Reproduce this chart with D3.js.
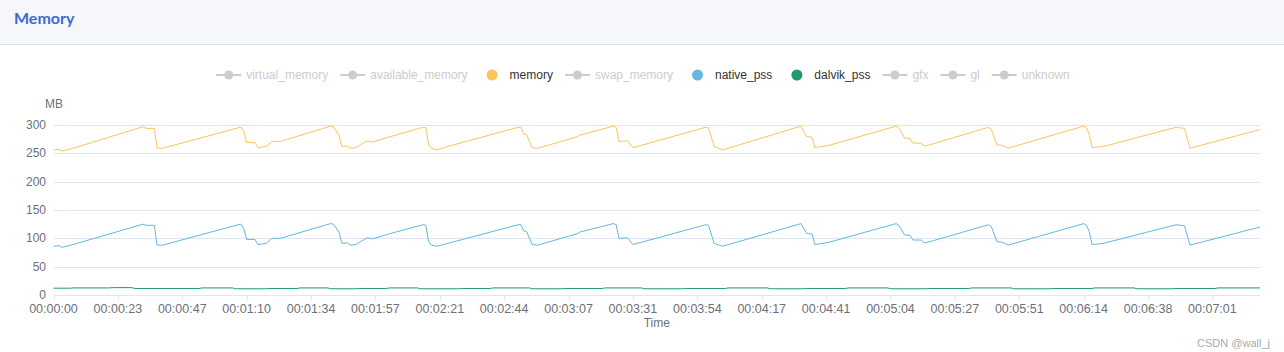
<!DOCTYPE html>
<html>
<head>
<meta charset="utf-8">
<script src="https://cdn.jsdelivr.net/npm/d3@7/dist/d3.min.js"></script>
<style>
body { margin: 0; background: #fff; }
svg { display: block; font-family: "Liberation Sans", Arial, sans-serif; }
</style>
</head>
<body>
<svg id="chart" width="1284" height="352"></svg>
<script>
// x axis: one category per sample, a label every 23 samples
var sampleCount = 432;
var labelStep = 23;
var timeLabels = ["00:00:00", "00:00:23", "00:00:47", "00:01:10", "00:01:34", "00:01:57", "00:02:21",
    "00:02:44", "00:03:07", "00:03:31", "00:03:54", "00:04:17", "00:04:41", "00:05:04", "00:05:27",
    "00:05:51", "00:06:14", "00:06:38", "00:07:01"];

var yTicks = [0, 50, 100, 150, 200, 250, 300];

var legendNames = ["virtual_memory", "available_memory", "memory", "swap_memory", "native_pss",
    "dalvik_pss", "gfx", "gl", "unknown"];
var legendOn = [false, false, true, false, true, true, false, false, false];

// sample index of each vertex for memory / native_pss
var memIdx = [0, 2, 3, 7, 32, 33, 36, 37, 39, 66, 67, 68, 69, 72, 73, 76, 78, 81,
    99, 100, 102, 103, 105, 106, 108, 112, 114, 120, 132, 133, 134, 135, 137, 140,
    166, 167, 168, 169, 171, 173, 187, 188, 200, 201, 202, 205, 207, 233, 234, 236, 239,
    267, 269, 271, 272, 277, 301, 302, 304, 306, 307, 310, 311, 313, 334, 335, 337, 339, 341,
    368, 369, 370, 371, 375, 401, 404, 406, 431];
var memory = [256, 257, 254, 259, 297, 294, 294, 259, 259, 295, 296, 288, 269, 269, 260, 262, 271, 271,
    298, 297, 282, 262, 263, 259, 260, 272, 270, 279, 296, 295, 265, 259, 256, 261,
    296, 296, 284, 283, 260, 259, 279, 282, 298, 296, 271, 272, 260, 296, 295, 262, 256,
    298, 280, 278, 260, 264, 298, 295, 277, 276, 268, 268, 263, 265, 296, 292, 265, 264, 259,
    298, 295, 283, 260, 262, 296, 294, 259, 292];
var nativePss = [86, 87, 84, 89, 125, 123, 123, 88, 88, 124, 125, 117, 98, 98, 89, 91, 100, 100,
    126, 125, 111, 91, 92, 88, 89, 101, 99, 108, 124, 123, 94, 88, 86, 90,
    124, 124, 113, 112, 89, 88, 108, 111, 126, 124, 100, 101, 89, 124, 123, 91, 86,
    126, 109, 107, 89, 93, 126, 123, 106, 105, 97, 97, 92, 94, 124, 121, 94, 93, 88,
    126, 123, 112, 89, 91, 124, 122, 88, 120];

var dalvikIdx = [0, 6, 7, 20, 21, 28, 29, 52, 53, 64, 65, 76, 77, 87, 88, 98, 99, 108, 109, 119,
    120, 130, 131, 145, 146, 156, 157, 170, 171, 182, 183, 196, 197, 210, 211, 225, 226, 240,
    241, 255, 256, 268, 269, 283, 284, 298, 299, 312, 313, 327, 328, 342, 343, 356, 357, 371,
    372, 386, 387, 400, 401, 415, 416, 431];
var dalvikPss = [12, 12, 12.5, 12.5, 13, 13, 11.5, 11.5, 12.5, 12.5, 11, 11, 11.5, 11.5, 12.5, 12.5,
    11, 11, 11.5, 11.5, 12.5, 12.5, 11, 11, 11.5, 11.5, 12.5, 12.5, 11, 11, 11.5, 11.5,
    12.5, 12.5, 11, 11, 11.5, 11.5, 12.5, 12.5, 11, 11, 11.5, 11.5, 12.5, 12.5, 11, 11,
    11.5, 11.5, 12.5, 12.5, 11, 11, 11.5, 11.5, 12.5, 12.5, 11, 11, 11.5, 11.5, 12.5, 12.5];

var colors = {memory: "#fbc55a", native_pss: "#62b9dc", dalvik_pss: "#1f9a6a"};

var svg = d3.select("#chart");

// header band
svg.append("rect")
    .attr("x", 0).attr("y", 0)
    .attr("width", 1284).attr("height", 44)
    .attr("fill", "#f5f7fb");
svg.append("line")
    .attr("x1", 0).attr("x2", 1284)
    .attr("y1", 44.5).attr("y2", 44.5)
    .attr("stroke", "#dde3ee");
svg.append("text")
    .attr("x", 14).attr("y", 24)
    .attr("font-size", 16)
    .attr("font-weight", "bold")
    .attr("font-family", "Lato, 'Open Sans', sans-serif")
    .attr("fill", "#3b6ad6")
    .text("Memory");

var xScale = d3.scaleLinear()
    .domain([0, sampleCount - 1])
    .range([53.5, 1260]);

var yScale = d3.scaleLinear()
    .domain([0, 300])
    .range([295, 125]);

// grid lines
svg.append("g")
    .selectAll("line")
    .data(yTicks)
    .join("line")
    .attr("x1", xScale(0)).attr("x2", xScale(sampleCount - 1))
    .attr("y1", function(d) { return Math.round(yScale(d)) + 0.5; })
    .attr("y2", function(d) { return Math.round(yScale(d)) + 0.5; })
    .attr("stroke", "#e0e6f1");

// y axis labels
svg.append("g")
    .selectAll("text")
    .data(yTicks)
    .join("text")
    .attr("x", 46)
    .attr("y", function(d) { return yScale(d) + 4; })
    .attr("text-anchor", "end")
    .attr("font-size", 12)
    .attr("fill", "#6e7079")
    .text(function(d) { return d; });

svg.append("text")
    .attr("x", 54).attr("y", 108)
    .attr("text-anchor", "middle")
    .attr("font-size", 12)
    .attr("fill", "#6e7079")
    .text("MB");

// x axis ticks and labels
var xTicks = timeLabels.map(function(t, i) { return {i: i * labelStep, t: t}; });
var xAxis = svg.append("g");
xAxis.selectAll("line")
    .data(xTicks)
    .join("line")
    .attr("x1", function(d) { return Math.round(xScale(d.i)) + 0.5; })
    .attr("x2", function(d) { return Math.round(xScale(d.i)) + 0.5; })
    .attr("y1", 295).attr("y2", 300)
    .attr("stroke", "#e0e6f1");
xAxis.selectAll("text")
    .data(xTicks)
    .join("text")
    .attr("x", function(d) { return xScale(d.i); })
    .attr("y", 313)
    .attr("text-anchor", "middle")
    .attr("font-size", 12.5)
    .attr("fill", "#6e7079")
    .text(function(d) { return d.t; });

svg.append("text")
    .attr("x", (xScale(0) + xScale(sampleCount - 1)) / 2)
    .attr("y", 327)
    .attr("text-anchor", "middle")
    .attr("font-size", 12)
    .attr("fill", "#6e7079")
    .text("Time");

// series lines
var line = d3.line()
    .x(function(d) { return xScale(d[0]); })
    .y(function(d) { return yScale(d[1]); });

svg.append("path")
    .datum(d3.zip(dalvikIdx, dalvikPss))
    .attr("fill", "none")
    .attr("stroke", colors.dalvik_pss)
    .attr("stroke-width", 1)
    .attr("d", line);

svg.append("path")
    .datum(d3.zip(memIdx, nativePss))
    .attr("fill", "none")
    .attr("stroke", colors.native_pss)
    .attr("stroke-width", 1)
    .attr("d", line);

svg.append("path")
    .datum(d3.zip(memIdx, memory))
    .attr("fill", "none")
    .attr("stroke", colors.memory)
    .attr("stroke-width", 1)
    .attr("d", line);

// legend
var legend = svg.append("g");
var items = legend.selectAll("g")
    .data(legendNames)
    .join("g");
items.append("text")
    .attr("x", 30)
    .attr("y", 4)
    .attr("font-size", 12)
    .attr("fill", function(d, i) { return legendOn[i] ? "#333" : "#ccc"; })
    .text(function(d) { return d; });
items.each(function(d, i) {
    var g = d3.select(this);
    if (legendOn[i]) {
        g.append("circle").attr("cx", 12.5).attr("cy", 0).attr("r", 5.5).attr("fill", colors[d]);
    } else {
        g.append("line").attr("x1", 0).attr("x2", 25).attr("y1", 0).attr("y2", 0)
            .attr("stroke", "#ccc").attr("stroke-width", 2);
        g.append("circle").attr("cx", 12.5).attr("cy", 0).attr("r", 4.5).attr("fill", "#ccc");
    }
});
var pos = 0;
var offsets = [];
items.each(function() {
    var w = 30 + d3.select(this).select("text").node().getComputedTextLength();
    offsets.push(pos);
    pos += w + 12;
});
var total = pos - 12;
var startX = 643 - total / 2;
items.attr("transform", function(d, i) { return "translate(" + (startX + offsets[i]) + ",75)"; });

// watermark
svg.append("text")
    .attr("x", 1270).attr("y", 347)
    .attr("text-anchor", "end")
    .attr("font-size", 11)
    .attr("fill", "#aaa")
    .text("CSDN @wall_j");
</script>
</body>
</html>
